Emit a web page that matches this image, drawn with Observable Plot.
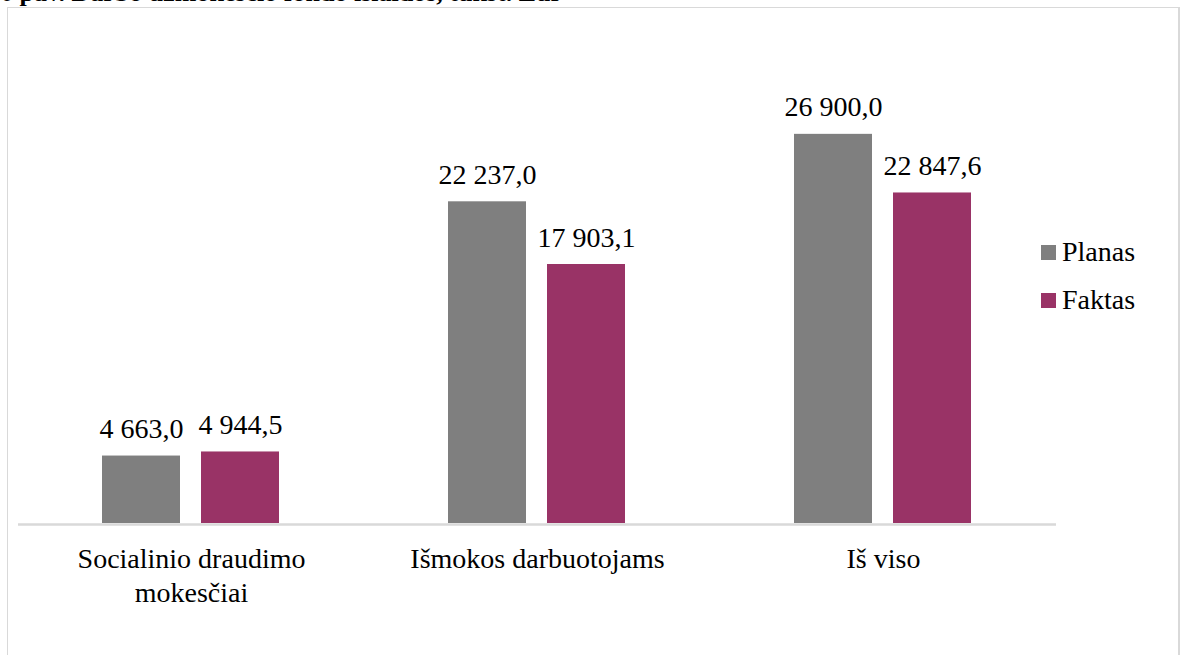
<!DOCTYPE html>
<html>
<head>
<meta charset="utf-8">
<script src="https://cdn.jsdelivr.net/npm/d3@7"></script>
<script src="https://cdn.jsdelivr.net/npm/@observablehq/plot@0.6"></script>
<style>
  html, body { margin: 0; padding: 0; background: #fff; }
  #wrap { position: relative; width: 1181px; height: 655px; overflow: hidden; font-family: "Liberation Serif", "Times New Roman", serif; }
  #title { position: absolute; left: 0; top: -22px; font-size: 26px; font-weight: bold; white-space: nowrap; color: #000; }
  #frame { position: absolute; left: 7px; top: 7px; width: 1170px; height: 700px; border-top: 1.5px solid #d9d9d9; border-left: 1.5px solid #d9d9d9; border-right: 2px solid #d9d9d9; }
  #chart { position: absolute; left: 0; top: 0; }
  #chart svg, #chart svg text { font-family: "Liberation Serif", "Times New Roman", serif; }
  #legend { position: absolute; left: 1041px; top: 228px; font-size: 28px; color: #000; }
  #legend .item { display: flex; align-items: center; height: 48px; }
  #legend .sw { width: 15px; height: 15px; margin-right: 6px; }
</style>
</head>
<body>
<div id="wrap">
  <div id="title">6 pav. Darbo užmokesčio fondo išlaidos, tūkst. Eur</div>
  <div id="frame"></div>
  <div id="chart"></div>
  <div id="legend"></div>
</div>
<script>
const categories = ["Socialinio draudimo\nmokesčiai", "Išmokos darbuotojams", "Iš viso"];
const series = ["Planas", "Faktas"];
const planas = [4663.0, 22237.0, 26900.0];
const faktas = [4944.5, 17903.1, 22847.6];
const colors = ["#7f7f7f", "#993366"];

const data = [];
categories.forEach((c, i) => {
  data.push({category: c, series: "Planas", value: planas[i]});
  data.push({category: c, series: "Faktas", value: faktas[i]});
});

const loc = d3.formatLocale({decimal: ",", thousands: " ", grouping: [3]});
const fmt = loc.format(",.1f");

const chart = Plot.plot({
  width: 1181,
  height: 655,
  marginLeft: 18,
  marginRight: 125,
  marginTop: 89,
  marginBottom: 132,
  style: {fontSize: "28px", color: "#000", background: "transparent"},
  fx: {domain: categories, padding: 0, label: null},
  x: {domain: series, paddingInner: 0.2121, paddingOuter: 0.8535, axis: null},
  y: {domain: [0, 30000], axis: null},
  color: {domain: series, range: colors},
  marks: [
    Plot.barY(data, {fx: "category", x: "series", y: "value", fill: "series"}),
    Plot.text(data, {fx: "category", x: "series", y: "value", text: d => fmt(d.value), lineAnchor: "bottom", dy: -18, fill: "#000", fontSize: 28}),
    Plot.ruleY([0], {stroke: "#d9d9d9", strokeWidth: 2.5, dy: 1}),
    Plot.axisFx({anchor: "bottom", tickSize: 0, tickPadding: 21, lineHeight: 1.2, fontSize: 28, label: null})
  ]
});
document.getElementById("chart").appendChild(chart);

const legend = document.getElementById("legend");
series.forEach((s, i) => {
  const it = document.createElement("div");
  it.className = "item";
  const sw = document.createElement("div");
  sw.className = "sw";
  sw.style.background = colors[i];
  const t = document.createElement("span");
  t.textContent = s;
  it.appendChild(sw);
  it.appendChild(t);
  legend.appendChild(it);
});
</script>
</body>
</html>
